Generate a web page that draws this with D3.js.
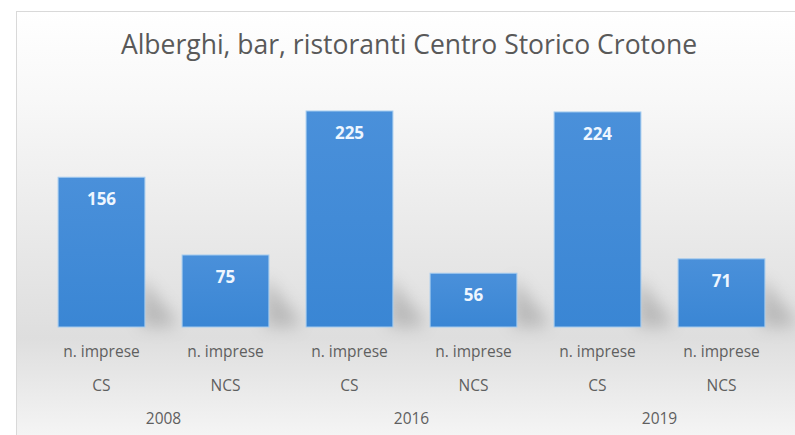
<!DOCTYPE html>
<html><head><meta charset="utf-8">
<script src="https://cdn.jsdelivr.net/npm/d3@7"></script>
<style>html,body{margin:0;padding:0;background:#fff;}svg{display:block;}</style>
</head><body>
<script>
const title = "Alberghi, bar, ristoranti Centro Storico Crotone";
const years = ["2008", "2016", "2019"];
const subCats = ["CS", "NCS"];
const measure = "n. imprese";
const values = [156, 75, 225, 56, 224, 71];

const W = 795, H = 435;
const svg = d3.select("body").append("svg").attr("width", W).attr("height", H);
const defs = svg.append("defs");

const bg = defs.append("linearGradient").attr("id","bg").attr("x1",0).attr("y1",0).attr("x2",0).attr("y2",1);
bg.append("stop").attr("offset","0%").attr("stop-color","#ffffff");
bg.append("stop").attr("offset","20%").attr("stop-color","#f8f8f8");
bg.append("stop").attr("offset","75%").attr("stop-color","#dedede");
bg.append("stop").attr("offset","100%").attr("stop-color","#f7f7f7");

const bar = defs.append("linearGradient").attr("id","bar").attr("x1",0).attr("y1",0).attr("x2",0).attr("y2",1);
bar.append("stop").attr("offset","0%").attr("stop-color","#4a90da");
bar.append("stop").attr("offset","100%").attr("stop-color","#3a86d4");

const blur = defs.append("filter").attr("id","blur").attr("x","-50%").attr("y","-50%").attr("width","200%").attr("height","200%");
blur.append("feGaussianBlur").attr("stdDeviation",8);

// frame
svg.append("rect").attr("x",16.5).attr("y",11.5).attr("width",W).attr("height",H)
  .attr("fill","url(#bg)").attr("stroke","#d9d9d9");

const items = [];
years.forEach((y,i)=>subCats.forEach((s,j)=>items.push({year:y, sub:s, v:values[i*2+j], key:y+"-"+s})));

const x = d3.scaleBand().domain(items.map(d=>d.key)).range([39.5, 783.5]).paddingInner(0.3).paddingOuter(0.15);
const y = d3.scaleLinear().domain([0, 225]).range([327, 111]);

// shadows
svg.append("g").selectAll("path").data(items).join("path")
  .attr("d", d=>{
    const x1 = x(d.key)+x.bandwidth(), b = y(0);
    const h = Math.min(y(0)-y(d.v), 50);
    return `M${x1-4},${b} L${x1-4},${b-h} L${x1+30},${b-8} L${x1+30},${b} Z`;
  })
  .attr("fill","#808080").attr("opacity",0.4).attr("filter","url(#blur)");

// bars
svg.append("g").selectAll("rect").data(items).join("rect")
  .attr("x", d=>x(d.key)).attr("y", d=>y(d.v))
  .attr("width", x.bandwidth()).attr("height", d=>y(0)-y(d.v))
  .attr("fill","url(#bar)").attr("stroke","#a4cbef").attr("stroke-width",1);

// value labels
svg.append("g").selectAll("text").data(items).join("text")
  .attr("x", d=>x(d.key)+x.bandwidth()/2).attr("y", d=>y(d.v)+28)
  .attr("text-anchor","middle").attr("fill","#eef6ff")
  .style("font-family","'Open Sans', sans-serif").style("font-weight","bold").style("font-size","17px")
  .text(d=>d.v);

// axis labels
const ax = svg.append("g").style("font-family","'Open Sans', sans-serif").style("font-size","15.5px").attr("fill","#5f5f5f");
ax.selectAll("text.m").data(items).join("text").attr("class","m")
  .attr("x", d=>x(d.key)+x.bandwidth()/2).attr("y", 357).attr("text-anchor","middle").text(measure);
ax.selectAll("text.s").data(items).join("text").attr("class","s")
  .attr("x", d=>x(d.key)+x.bandwidth()/2).attr("y", 391).attr("text-anchor","middle").text(d=>d.sub);
ax.selectAll("text.y").data(years).join("text").attr("class","y")
  .attr("x", yr=>(x(yr+"-CS")+x(yr+"-NCS")+x.bandwidth())/2).attr("y", 424).attr("text-anchor","middle").text(yr=>yr);

// title
svg.append("text").attr("x", 409).attr("y", 54).attr("text-anchor","middle")
  .attr("fill","#595959").style("font-family","'Open Sans', sans-serif").style("font-size","26.5px")
  .text(title);
</script>
</body></html>
